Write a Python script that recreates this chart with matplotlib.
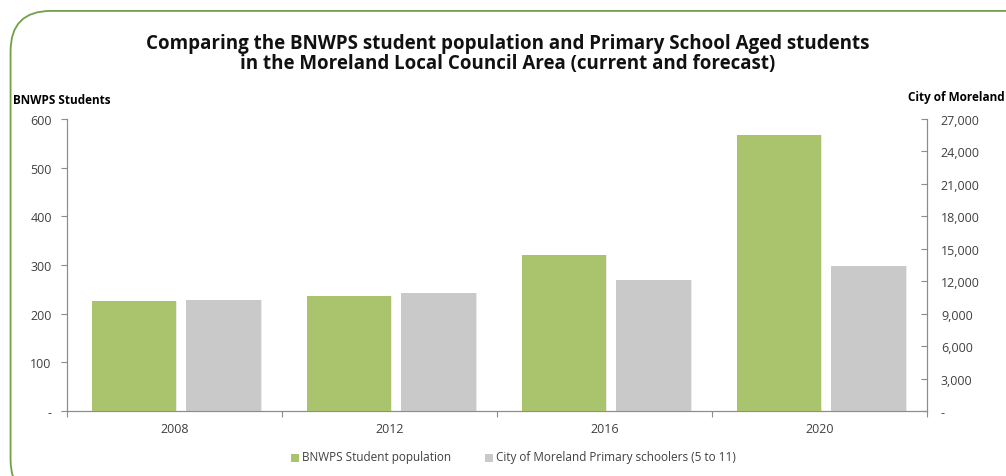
import matplotlib.pyplot as plt
from matplotlib.patches import FancyBboxPatch
from matplotlib.ticker import FuncFormatter
import numpy as np

plt.rcParams['font.family'] = ['Open Sans', 'DejaVu Sans']

years = ['2008', '2012', '2016', '2020']
bnwps = [226, 236, 320, 567]
moreland = [10250, 10950, 12150, 13400]

green = '#a9c46c'
grey = '#c9c9c9'
axcol = '#8c8c8c'
txtcol = '#404040'

fig = plt.figure(figsize=(10.06, 4.77), dpi=100)

# rounded green frame
frame = FancyBboxPatch((0.0105, -0.05), 1.05, 1.025, boxstyle='round,pad=0,rounding_size=0.04',
                       transform=fig.transFigure, fc='none', ec='#70a048', lw=1.3,
                       mutation_aspect=1006 / 477)
fig.patches.append(frame)

ax = fig.add_axes([67 / 1006, 1 - 412 / 477, 860 / 1006, 292 / 477])
ax2 = ax.twinx()

x = np.arange(len(years))
ax.bar(x + 0.312, bnwps, width=0.39, color=green, zorder=3)
ax2.bar(x + 0.728, moreland, width=0.35, color=grey, zorder=3)
# faint shadow on the bars
ax.bar(x + 0.312 + 0.006, bnwps, width=0.39, color='#000000', alpha=0.08, zorder=2)
ax2.bar(x + 0.728 + 0.006, moreland, width=0.35, color='#000000', alpha=0.08, zorder=2)

ax.set_xlim(0, 4)
ax.set_ylim(0, 600)
ax2.set_ylim(0, 27000)
ax.set_yticks(range(0, 601, 100))
ax2.set_yticks(range(0, 27001, 3000))

ax.yaxis.set_major_formatter(FuncFormatter(lambda v, p: '-' if v == 0 else f'{int(v)}'))
ax2.yaxis.set_major_formatter(FuncFormatter(lambda v, p: '-' if v == 0 else f'{int(v):,}'))

ax.set_xticks(range(0, 5))
ax.set_xticklabels([])
ax.set_xticks(x + 0.5, minor=True)
ax.set_xticklabels(years, minor=True)
ax.tick_params(axis='x', which='major', length=4, color=axcol, direction='out')
ax.tick_params(axis='x', which='minor', length=0, labelsize=9, colors=txtcol, pad=8)

ax.tick_params(axis='y', length=4, color=axcol, labelsize=9, labelcolor=txtcol, pad=7, direction='out')
ax2.tick_params(axis='y', length=4, color=axcol, labelsize=9, labelcolor=txtcol, pad=10, direction='in')

for a in (ax, ax2):
    a.spines['top'].set_visible(False)
    a.spines['left'].set_color(axcol)
    a.spines['right'].set_color(axcol)
    a.spines['bottom'].set_color(axcol)
    a.patch.set_visible(False)
ax.set_zorder(ax2.get_zorder() + 1)

fig.text(0.505, 1 - 54 / 477, 'Comparing the BNWPS student population and Primary School Aged students\nin the Moreland Local Council Area (current and forecast)',
         ha='center', va='center', fontsize=13.5, fontweight='bold', linespacing=0.95, color='#111111')
fig.text(13 / 1006, 1 - 101 / 477, 'BNWPS Students', ha='left', va='center', fontsize=8.5, fontweight='bold')
fig.text(1005 / 1006, 1 - 98 / 477, 'City of Moreland', ha='right', va='center', fontsize=8.5, fontweight='bold')

# legend
ly = 1 - 458 / 477
fig.patches.append(plt.Rectangle((291 / 1006, ly - 0.011), 8 / 1006, 8 / 477, transform=fig.transFigure, fc=green, ec='none'))
fig.text(302 / 1006, ly, 'BNWPS Student population', ha='left', va='center', fontsize=8.5, color=txtcol)
fig.patches.append(plt.Rectangle((485 / 1006, ly - 0.011), 8 / 1006, 8 / 477, transform=fig.transFigure, fc=grey, ec='none'))
fig.text(496 / 1006, ly, 'City of Moreland Primary schoolers (5 to 11)', ha='left', va='center', fontsize=8.5, color=txtcol)

fig.savefig('out.png', dpi=100)
